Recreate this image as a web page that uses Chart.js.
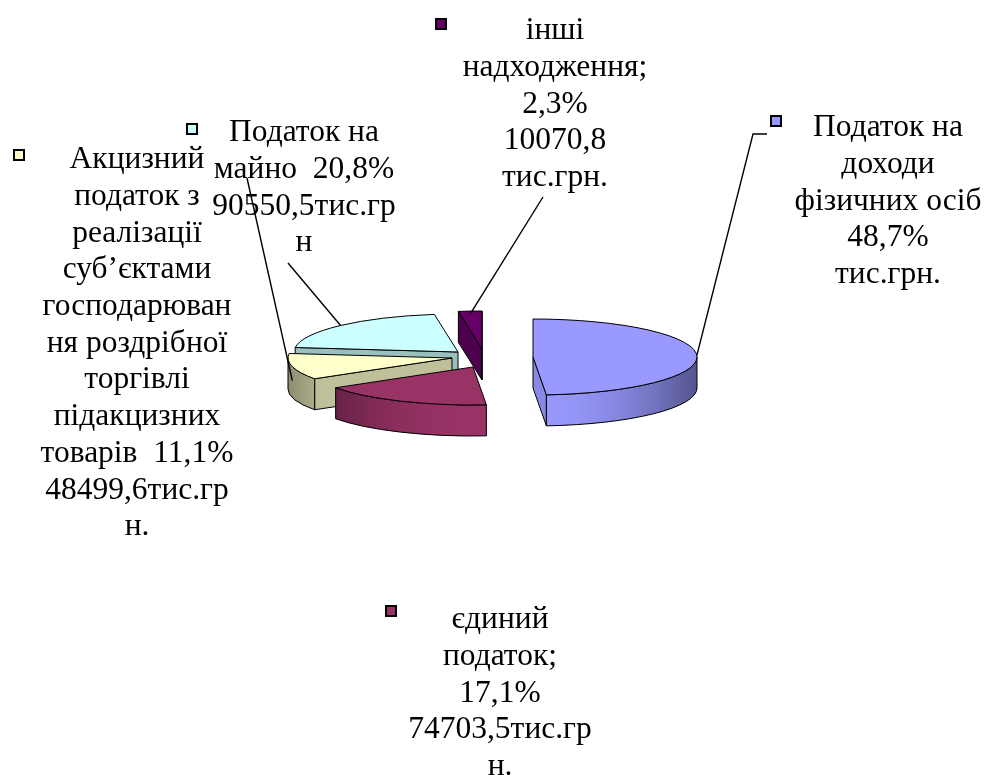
<!DOCTYPE html>
<html lang="uk">
<head>
  <meta charset="utf-8">
  <title>Структура надходжень</title>
  <script src="https://cdn.jsdelivr.net/npm/chart.js@4/dist/chart.umd.min.js"></script>
  <style>
    body { margin:0; background:#fff; }
    #wrap { position:relative; width:987px; height:775px; }
  </style>
</head>
<body>
  <div id="wrap"><canvas id="pie"></canvas></div>

  <script>
    // data
    const categories = ['Податок на доходи фізичних осіб', 'єдиний податок',
      'Акцизний податок з реалізації суб’єктами господарювання роздрібної торгівлі підакцизних товарів',
      'Податок на майно', 'інші надходження'];
    const shares = [48.7, 17.1, 11.1, 20.8, 2.3];
    const amounts = [null, 74703.5, 48499.6, 90550.5, 10070.8];
    const colors = ['#9999ff', '#993366', '#ffffcc', '#ccffff', '#660066'];

    const pct = i => String(shares[i]).replace('.', ',') + '%';
    const num = i => String(amounts[i]).replace('.', ',');

    // label text, wrapped the way the original wraps it
    const labelLines = [
      ['Податок на', 'доходи', 'фізичних осіб', pct(0), 'тис.грн.'],
      ['єдиний', 'податок;', pct(1), num(1) + 'тис.гр', 'н.'],
      ['Акцизний', 'податок з', 'реалізації', 'суб’єктами', 'господарюван', 'ня роздрібної',
        'торгівлі', 'підакцизних', 'товарів  ' + pct(2), num(2) + 'тис.гр', 'н.'],
      ['Податок на', 'майно  ' + pct(3), num(3) + 'тис.гр', 'н'],
      ['інші', 'надходження;', pct(4), num(4), 'тис.грн.']
    ];

    // layout / style
    const labelLayout = [
      { x: 888, y: 128, key: [776, 121], leader: [[767, 134], [753, 134]], drop: 0 },
      { x: 500, y: 620, key: [391, 611], leader: null },
      { x: 137, y: 160, key: [19, 155], leader: [[247, 178]], drop: 0.45 },
      { x: 304, y: 133, key: [192, 129], leader: [[288, 263]], drop: 0 },
      { x: 555, y: 31, key: [441, 24], leader: [[543, 197]], drop: 0.1 }
    ];
    const lineH = 36.7;
    const pie3d = { ry: 38, depth: 31, explode: [[63, 1], [3, 11], [-18, 2], [-12, -4], [12, -7]] };

    function shade(hex, f) {
      const n = parseInt(hex.slice(1), 16);
      const c = [(n >> 16) & 255, (n >> 8) & 255, n & 255].map(v => Math.round(Math.min(255, v * f)));
      return `rgb(${c[0]},${c[1]},${c[2]})`;
    }
    const mid = a => (a.startAngle + a.endAngle) / 2;

    function drawSlice(ctx, arc, i) {
      const { x, y, startAngle: s, endAngle: e, outerRadius: rx } = arc;
      const ry = pie3d.ry, d = pie3d.depth, k = ry / rx;
      const [ox, oy] = pie3d.explode[i];
      const cx = x + ox, cy = y + oy;
      const P = a => [cx + rx * Math.cos(a), cy + ry * Math.sin(a)];
      const base = colors[i];
      ctx.save();
      ctx.lineWidth = 1; ctx.strokeStyle = '#000'; ctx.lineJoin = 'round';

      const face = (a, f) => {
        const p = P(a);
        ctx.beginPath();
        ctx.moveTo(cx, cy); ctx.lineTo(p[0], p[1]); ctx.lineTo(p[0], p[1] + d); ctx.lineTo(cx, cy + d);
        ctx.closePath();
        ctx.fillStyle = shade(base, f); ctx.fill(); ctx.stroke();
      };
      if (Math.cos(s) < 0) face(s, 0.75);
      if (Math.cos(e) > 0) face(e, 0.9);

      // outer wall, front half only
      const a0 = Math.max(s, 0), a1 = Math.min(e, Math.PI);
      if (a1 > a0) {
        ctx.beginPath();
        ctx.ellipse(cx, cy, rx, ry, 0, a0, a1);
        ctx.ellipse(cx, cy + d, rx, ry, 0, a1, a0, true);
        ctx.closePath();
        const g = ctx.createLinearGradient(cx - rx, 0, cx + rx, 0);
        for (let j = 0; j <= 8; j++) {
          const t = j / 8, u = 2 * t - 1;
          g.addColorStop(t, shade(base, 0.55 + 0.45 * (1 - u * u)));
        }
        ctx.fillStyle = g; ctx.fill(); ctx.stroke();
      }

      // top face: library arc drawn in a flattened context
      ctx.save();
      ctx.translate(ox, oy);
      ctx.translate(x, y); ctx.scale(1, k); ctx.translate(-x, -y);
      arc.draw(ctx);
      ctx.beginPath(); ctx.moveTo(x, y); ctx.arc(x, y, rx, s, e); ctx.closePath();
      ctx.restore();
      ctx.stroke();
      ctx.restore();
    }

    const pie3dPlugin = {
      id: 'pie3d',
      beforeDatasetsDraw(chart) {
        const arcs = chart.getDatasetMeta(0).data;
        const order = arcs.map((a, i) => i).sort((i, j) => Math.sin(mid(arcs[i])) - Math.sin(mid(arcs[j])));
        order.forEach(i => drawSlice(chart.ctx, arcs[i], i));
        return false;
      }
    };

    const labelPlugin = {
      id: 'labels3d',
      afterDraw(chart) {
        const ctx = chart.ctx;
        const arcs = chart.getDatasetMeta(0).data;
        ctx.save();
        ctx.font = '31.5px "Liberation Serif", "Times New Roman", serif';
        ctx.textAlign = 'center'; ctx.textBaseline = 'middle';
        labelLines.forEach((lines, i) => {
          const L = labelLayout[i];
          ctx.fillStyle = '#000';
          lines.forEach((t, j) => ctx.fillText(t, L.x, L.y + j * lineH));
          // legend key
          ctx.fillStyle = colors[i]; ctx.strokeStyle = '#000'; ctx.lineWidth = 2;
          ctx.fillRect(L.key[0] - 5, L.key[1] - 5, 10, 10);
          ctx.strokeRect(L.key[0] - 5, L.key[1] - 5, 10, 10);
          // leader line to the slice rim
          if (L.leader) {
            const a = arcs[i], m = mid(a), [ox, oy] = pie3d.explode[i];
            const tx = a.x + ox + a.outerRadius * Math.cos(m);
            const ty = a.y + oy + pie3d.ry * Math.sin(m) + L.drop * pie3d.depth;
            ctx.beginPath(); ctx.lineWidth = 1.4;
            ctx.moveTo(L.leader[0][0], L.leader[0][1]);
            L.leader.slice(1).forEach(p => ctx.lineTo(p[0], p[1]));
            ctx.lineTo(tx, ty);
            ctx.stroke();
          }
        });
        ctx.restore();
      }
    };

    new Chart(document.getElementById('pie'), {
      type: 'pie',
      data: {
        labels: categories,
        datasets: [{ data: shares, backgroundColor: colors, borderWidth: 0, radius: 164 }]
      },
      options: {
        responsive: true, maintainAspectRatio: false, animation: false, events: [],
        layout: { padding: { left: 0, top: 0, right: 47, bottom: 63 } },
        plugins: { legend: { display: false }, tooltip: { enabled: false } }
      },
      plugins: [pie3dPlugin, labelPlugin]
    });
  </script>
</body>
</html>
